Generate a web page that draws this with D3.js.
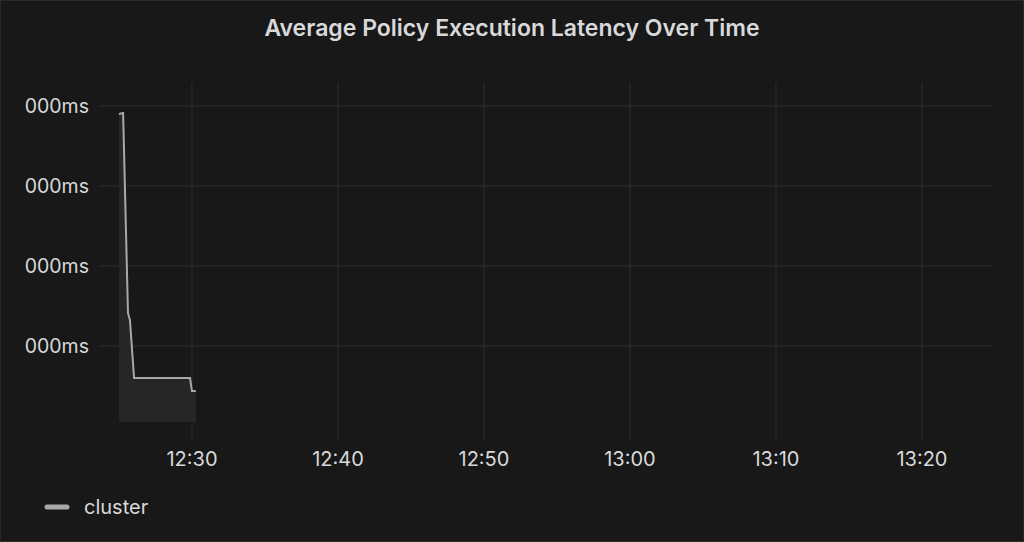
<!DOCTYPE html><html><head><meta charset="utf-8"><script src="https://cdn.jsdelivr.net/npm/d3@7"></script>
<style>body{margin:0;background:#181818}svg{display:block}</style></head><body><script>
const times=["12:25:00","12:25:17","12:25:37","12:25:45","12:26:02","12:29:52","12:30:00","12:30:16"];
const values=[3900,3912,1412,1325,600,600,437,437];
const yTicks=[1000,2000,3000,4000];
const yTickLabels=["000ms","000ms","000ms","000ms"];
const seriesName="cluster";
const W=1024,H=542;
const svg=d3.select("body").append("svg").attr("width",W).attr("height",H).style("font-family","Inter, 'Open Sans', sans-serif");
svg.append("rect").attr("x",0.5).attr("y",0.5).attr("width",W-1).attr("height",H-1).attr("fill","#181818").attr("stroke","#2a2a2a");
const p=d3.timeParse("%H:%M:%S");
const data=times.map((t,i)=>({t:p(t),v:values[i]}));
const x=d3.scaleTime().domain([p("12:23:42"),p("13:24:52")]).range([100,993]);
const y=d3.scaleLinear().domain([-175,4000]).range([440,106]);
const g=svg.append("g");
x.ticks(d3.timeMinute.every(10)).forEach(t=>g.append("line").attr("x1",x(t)).attr("x2",x(t)).attr("y1",83).attr("y2",440).attr("stroke","#2e2e2e"));
yTicks.forEach((v,i)=>{g.append("line").attr("x1",100).attr("x2",993).attr("y1",y(v)).attr("y2",y(v)).attr("stroke","#2e2e2e");
g.append("text").attr("x",89).attr("y",y(v)).attr("dy","0.35em").attr("text-anchor","end").attr("fill","#d8d9da").attr("font-size",19.5).text(yTickLabels[i]);});
x.ticks(d3.timeMinute.every(10)).forEach(t=>g.append("text").attr("x",x(t)).attr("y",466).attr("text-anchor","middle").attr("fill","#d8d9da").attr("font-size",20).text(d3.timeFormat("%H:%M")(t)));
g.append("path").datum(data).attr("d",d3.area().x(d=>x(d.t)).y0(y(50)).y1(d=>y(d.v))).attr("fill","#262626");
g.append("path").datum(data).attr("d",d3.line().x(d=>x(d.t)).y(d=>y(d.v))).attr("fill","none").attr("stroke","#a8a8a8").attr("stroke-width",2);
svg.append("text").attr("x",512).attr("y",36).attr("text-anchor","middle").attr("fill","#d8d9da").attr("font-size",23).attr("font-weight",600).text("Average Policy Execution Latency Over Time");
svg.append("line").attr("x1",47).attr("x2",67).attr("y1",507).attr("y2",507).attr("stroke","#a8a8a8").attr("stroke-width",5).attr("stroke-linecap","round");
svg.append("text").attr("x",84).attr("y",507).attr("dy","0.35em").attr("fill","#d8d9da").attr("font-size",20).text(seriesName);
</script></body></html>
